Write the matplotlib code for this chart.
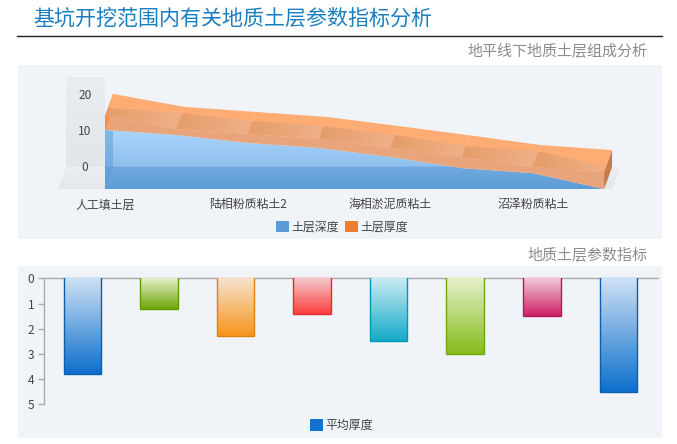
# -*- coding: utf-8 -*-
import numpy as np
import matplotlib
matplotlib.use('Agg')
import matplotlib.pyplot as plt
from matplotlib.colors import LinearSegmentedColormap
from matplotlib.patches import Polygon, Patch

plt.rcParams['font.family'] = ['Noto Sans CJK SC', 'DejaVu Sans']

W, H = 677, 444

# 上图数据
layers = ['人工填土层', '', '陆相粉质粘土2', '', '海相淤泥质粘土', '', '沼泽粉质粘土', '']
depth = [16.4, 15.0, 12.8, 11.4, 8.9, 5.8, 4.4, 0.0]
thick = [3.9, 1.7, 2.5, 2.5, 2.5, 3.0, 1.7, 4.7]
yticks_top = [0, 10, 20]

# 下图数据
avg_thick = [3.8, 1.2, 2.3, 1.4, 2.5, 3.0, 1.5, 4.5]
yticks_bot = [0, 1, 2, 3, 4, 5]
bar_dark = ['#0d6fcc', '#6ea50a', '#f7941d', '#ff3f3f', '#14aac9', '#86bd1c', '#cc1f66', '#0d6fcc']
bar_light = ['#d0e2f5', '#e5f0c5', '#f5e3cf', '#f2cdd0', '#cdecf2', '#e6f1cb', '#f3cfdc', '#d0e2f5']
bar_edge = ['#0b5fad', '#5f9c00', '#e0800f', '#d9302f', '#0099b5', '#6fa80f', '#b81858', '#0b5fad']

PANEL = '#f0f3f8'
TXT = '#444444'


def px_axes(fig, x0, y0, x1, y1):
    return fig.add_axes([x0 / W, 1 - y1 / H, (x1 - x0) / W, (y1 - y0) / H])


def grad_fill(ax, patch, stops, extent, horizontal=False, zorder=0):
    # 渐变填充，裁剪到patch
    cm = LinearSegmentedColormap.from_list('g', stops, N=256)
    if horizontal:
        g = np.linspace(0, 1, 64).reshape(1, -1)
    else:
        g = np.linspace(1, 0, 256).reshape(-1, 1)
    im = ax.imshow(g, cmap=cm, vmin=0, vmax=1, extent=extent, aspect='auto',
                   origin='upper', interpolation='bilinear', zorder=zorder)
    patch.set_facecolor('none')
    patch.set_edgecolor('none')
    ax.add_patch(patch)
    im.set_clip_path(patch)
    return im


fig = plt.figure(figsize=(W / 100.0, H / 100.0), dpi=100, facecolor='white')

# 背景层：标题、面板
bg = fig.add_axes([0, 0, 1, 1])
bg.set_xlim(0, W)
bg.set_ylim(H, 0)
bg.axis('off')
bg.fill_between([18, 662], 65, 239, color=PANEL, lw=0)
bg.fill_between([18, 662], 266, 438, color=PANEL, lw=0)
bg.plot([17, 662], [36.5, 36.5], color='#222222', lw=1)
bg.text(33, 19, '基坑开挖范围内有关地质土层参数指标分析', color='#1a7fc0', fontsize=15.1,
        ha='left', va='center')
bg.text(647.5, 51, '地平线下地质土层组成分析', color='#8c8c8c', fontsize=10.8, ha='right', va='center')
bg.text(647.5, 255, '地质土层参数指标', color='#8c8c8c', fontsize=10.8, ha='right', va='center')

# 上图：伪3D面积
ux, uy = 71.3, 3.6  # 每类/每单位的像素
dx, dy = 8 / ux, 22 / uy  # 3D偏移
ax = px_axes(fig, 18, 65, 662, 239)
ax.patch.set_alpha(0)
xlim = ((18 - 105) / ux, (662 - 105) / ux)
ylim = ((189 - 239) / uy, (189 - 65) / uy)

xs = np.arange(len(depth), dtype=float)
d = np.array(depth)
top = d + np.array(thick)
n = len(xs)
xmax = xs[-1]
wall_top = (189 - 77) / uy

# 后墙和地面
wall = Polygon([(xs[0] - 39 / ux, dy), (xs[0], dy), (xs[0], wall_top), (xs[0] - 39 / ux, wall_top)])
grad_fill(ax, wall, ['#e2e5ea', '#e9ecf0'], (xs[0] - 39 / ux, xs[0], dy, wall_top))
floor = Polygon([(xs[0] - 47 / ux, 0), (xmax + dx, 0), (xmax + 2 * dx, dy), (xs[0] - 39 / ux, dy)])
grad_fill(ax, floor, ['#e3e6eb', '#eceef2'], (xs[0] - 47 / ux, xmax + 2 * dx, 0, dy))

# 蓝色区域
blue = Polygon(list(zip(xs, d)) + [(xmax, 0), (xs[0], 0)])
ymax = d.max()
frac = dy / ymax
stops = [(0, '#5e9cd6'), (frac - 0.001, '#70a9e0'), (frac + 0.001, '#8fbfec'), (1, '#aad6ff')]
grad_fill(ax, blue, stops, (xs[0], xmax, 0, ymax))
ax.add_patch(Polygon([(xs[0], 0), (xs[0] + dx, dy), (xs[0] + dx, d[0] - 0.3), (xs[0], d[0])],
                     fc='#5a9fdc', alpha=0.55, lw=0))

# 前面整体
ax.add_patch(Polygon(list(zip(xs, top)) + list(zip(xs[::-1], d[::-1])), fc='#e8a47a', lw=0, zorder=1))
# 左端面
ax.add_patch(Polygon([(xs[0], d[0]), (xs[0], top[0]), (xs[0] + dx, top[0] + dy), (xs[0] + dx, d[0] + dy)],
                     fc='#ff8c40', alpha=0.95, lw=0, zorder=1.1))
# 上表面斜边上，后下沿高度对应的位置
t = 1 - np.array(thick) / dy
for i in range(n - 1):
    # 上表面
    ax.add_patch(Polygon([(xs[i], top[i]), (xs[i + 1], top[i + 1]), (xs[i + 1] + dx, top[i + 1] + dy), (xs[i] + dx, top[i] + dy)],
                         fc='#ffac74', lw=0, zorder=1.2))
    # 透出来的下表面，每段从左到右变浅
    band = Polygon([(xs[i], top[i]), (xs[i] + t[i] * dx, d[i] + dy), (xs[i + 1] + t[i + 1] * dx, d[i + 1] + dy), (xs[i + 1], top[i + 1])])
    grad_fill(ax, band, ['#e69d6b', '#f0b189'], (xs[i], xs[i + 1] + dx, 0, wall_top), horizontal=True, zorder=1.3 + i * 0.01)
# 右端面
ax.add_patch(Polygon([(xmax, d[-1]), (xmax, top[-1]), (xmax + dx, top[-1] + dy), (xmax + dx, d[-1] + dy)],
                     fc='#c67b48', lw=0, zorder=2))

for v in yticks_top:
    ax.text(xs[0] - 20 / ux, v + dy - 0.25, str(v), color=TXT, fontsize=8.6, ha='center', va='center')
for x, lab in zip(xs, layers):
    ax.text(x, -15.7 / uy, lab, color=TXT, fontsize=8.6, ha='center', va='center')
ax.legend(handles=[Patch(fc='#5b9bd5', label='土层深度'), Patch(fc='#ed7d31', label='土层厚度')],
          ncol=2, frameon=False, loc='center', bbox_to_anchor=(0.503, 0.068), fontsize=8.6,
          handlelength=1.1, handleheight=1.1, handletextpad=0.2, columnspacing=0.45, labelcolor=TXT)
ax.set_xlim(xlim)
ax.set_ylim(ylim)
ax.axis('off')

# 下图：柱状图
ax2 = px_axes(fig, 44.1, 278.3, 658, 404.3)
ax2.patch.set_alpha(0)
pos = np.arange(len(avg_thick))
width = 37.5 / 76.56
bars = ax2.bar(pos, avg_thick, width=width, color='none', edgecolor='none', zorder=3)
for b, v, c0, c1, e, i in zip(bars, avg_thick, bar_light, bar_dark, bar_edge, pos):
    cm = LinearSegmentedColormap.from_list('b', [c0, c1])
    im = ax2.imshow(np.linspace(0, 1, 128).reshape(-1, 1), cmap=cm, aspect='auto', zorder=3,
                    extent=(i - width / 2, i + width / 2, v, -0.03), origin='upper')
    im.set_clip_on(False)
    # 三边描边，顶边不画
    ax2.plot([i - width / 2, i - width / 2, i + width / 2, i + width / 2], [0, v, v, 0],
             color=e, lw=1, zorder=4, solid_joinstyle='miter')
ax2.set_xlim(-0.5, 7.518)
ax2.set_ylim(5, 0)
ax2.set_yticks(yticks_bot)
ax2.set_xticks([])
ax2.tick_params(axis='y', length=4, width=1, color='#aaaaaa', labelcolor=TXT, labelsize=8.6, pad=3)
for s in ['right', 'bottom']:
    ax2.spines[s].set_visible(False)
for s in ['top', 'left']:
    ax2.spines[s].set_color('#aaaaaa')
    ax2.spines[s].set_linewidth(1)
bg.legend(handles=[Patch(fc='#1173cf', label='平均厚度')], frameon=False, loc='center',
          bbox_to_anchor=(341.5, 425.5), bbox_transform=bg.transData, fontsize=8.6,
          handlelength=1.1, handleheight=1.1, handletextpad=0.2, labelcolor=TXT)

fig.savefig('out.png', dpi=100)
